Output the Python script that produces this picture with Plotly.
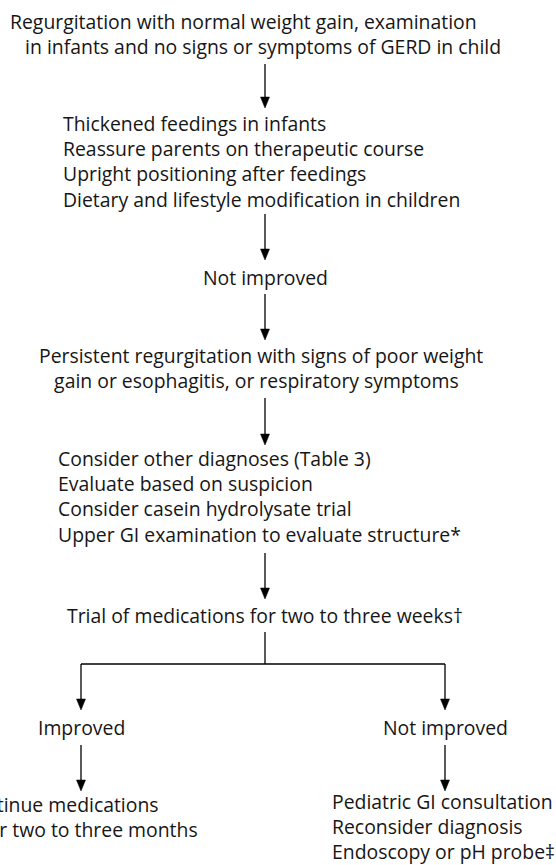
import plotly.graph_objects as go

# ---- content (text of the flowchart nodes) ----
initial_lines = ["Regurgitation with normal weight gain, examination",
                 "in infants and no signs or symptoms of GERD in child"]
conservative_lines = ["Thickened feedings in infants",
                      "Reassure parents on therapeutic course",
                      "Upright positioning after feedings",
                      "Dietary and lifestyle modification in children"]
not_improved_1 = ["Not improved"]
persistent_lines = ["Persistent regurgitation with signs of poor weight",
                    "gain or esophagitis, or respiratory symptoms"]
evaluate_lines = ["Consider other diagnoses (Table 3)",
                  "Evaluate based on suspicion",
                  "Consider casein hydrolysate trial",
                  "Upper GI examination to evaluate structure*"]
trial_lines = ["Trial of medications for two to three weeks\u2020"]
improved_lines = ["Improved"]
not_improved_2 = ["Not improved"]
continue_lines = ["Continue medications", "for two to three months"]
referral_lines = ["Pediatric GI consultation", "Reconsider diagnosis",
                  "Endoscopy or pH probe\u2021"]

# ---- layout (pixel space, y downward) ----
W, H = 556, 865
CX, LX, RX = 265, 81, 445
FSIZE = 19.4
FONT = dict(family="Open Sans", size=FSIZE, color="#161616")
LINE_H = 1.3 * FSIZE  # plotly's multi-line spacing
NB = "\u00a0"

fig = go.Figure()
annotations = []
shapes = []


def add_block(lines, x, y_first, anchor="left", indents=None):
    """One annotation per text block; y_first is the centre of the first line."""
    ind = indents or [0] * len(lines)
    text = "<br>".join(NB * k + t for k, t in zip(ind, lines))
    yc = y_first + (len(lines) - 1) * LINE_H / 2
    annotations.append(dict(x=x, y=yc, text=text, showarrow=False,
                            xanchor=anchor, yanchor="middle",
                            align="left" if anchor != "center" else "center",
                            font=FONT, borderpad=0, xref="x", yref="y"))


def add_line(x0, y0, x1, y1):
    shapes.append(dict(type="line", x0=x0, y0=y0, x1=x1, y1=y1,
                       line=dict(color="black", width=1.3), xref="x", yref="y"))


def add_arrow(x, y0, y1):
    head = 11
    add_line(x, y0, x, y1 - head + 1)
    shapes.append(dict(type="path",
                       path=f"M {x-4.5},{y1-head} L {x+4.5},{y1-head} L {x},{y1} Z",
                       fillcolor="black", line=dict(color="black", width=0.5),
                       xref="x", yref="y"))


add_block(initial_lines, 9, 21, indents=[0, 3])
add_arrow(CX, 64, 108)
add_block(conservative_lines, 62, 124)
add_arrow(CX, 214, 260)
add_block(not_improved_1, CX, 277, anchor="center")
add_arrow(CX, 294, 340)
add_block(persistent_lines, 38, 355, indents=[0, 3])
add_arrow(CX, 398, 445)
add_block(evaluate_lines, 57, 459)
add_arrow(CX, 553, 599)
add_block(trial_lines, CX, 615, anchor="center")
add_line(CX, 632, CX, 664)
add_line(LX, 664, RX, 664)
add_arrow(LX, 664, 710)
add_arrow(RX, 664, 710)
add_block(improved_lines, LX, 727, anchor="center")
add_block(not_improved_2, RX, 727, anchor="center")
add_arrow(LX, 745, 791)
add_arrow(RX, 745, 791)
add_block(continue_lines, 199, 804, anchor="right", indents=[0, 4])
add_block(referral_lines, 331, 801)

fig.update_layout(
    width=W, height=H, margin=dict(l=0, r=0, t=0, b=0),
    paper_bgcolor="white", plot_bgcolor="white",
    xaxis=dict(range=[0, W], visible=False, fixedrange=True),
    yaxis=dict(range=[H, 0], visible=False, fixedrange=True),
    annotations=annotations, shapes=shapes, showlegend=False,
)
fig.write_html("out.html", config={"displayModeBar": False},
               post_script="document.body.style.margin='0';")
